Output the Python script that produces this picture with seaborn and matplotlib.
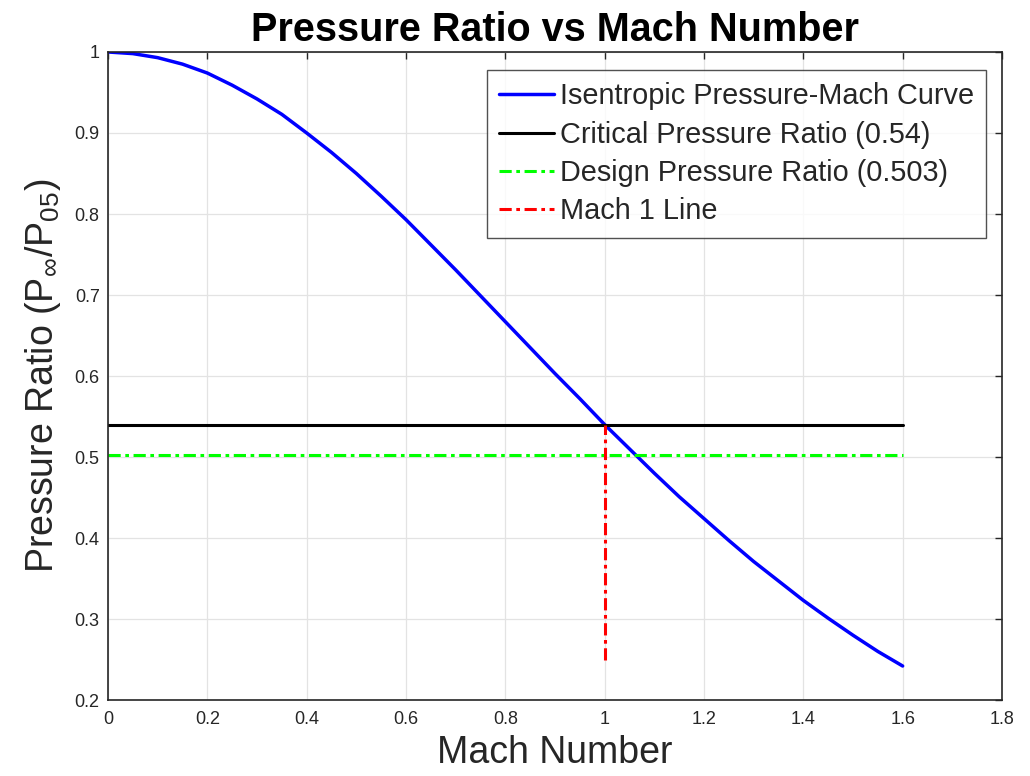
import matplotlib
matplotlib.use('Agg')
import matplotlib.pyplot as plt
import pandas as pd
import seaborn as sns

# values
mach = [0.0, 0.05, 0.1, 0.15, 0.2, 0.25, 0.3, 0.35, 0.4, 0.45, 0.5, 0.55,
        0.6, 0.65, 0.7, 0.75, 0.8, 0.85, 0.9, 0.95, 1.0, 1.05, 1.1, 1.15,
        1.2, 1.25, 1.3, 1.35, 1.4, 1.45, 1.5, 1.55, 1.6]
pressure_ratio = [1.000, 0.998, 0.993, 0.985, 0.974, 0.959, 0.942, 0.923,
                  0.900, 0.876, 0.850, 0.822, 0.793, 0.762, 0.731, 0.699,
                  0.667, 0.635, 0.603, 0.572, 0.540, 0.510, 0.480, 0.451,
                  0.424, 0.397, 0.371, 0.347, 0.323, 0.301, 0.280, 0.260,
                  0.242]

critical_x = [0.0, 1.6]
critical_y = [0.54, 0.54]
design_x = [0.0, 1.6]
design_y = [0.503, 0.503]
mach1_x = [1.0, 1.0]
mach1_y = [0.25, 0.54]

x_ticks = [0, 0.2, 0.4, 0.6, 0.8, 1, 1.2, 1.4, 1.6, 1.8]
y_ticks = [0.2, 0.3, 0.4, 0.5, 0.6, 0.7, 0.8, 0.9, 1]

df = pd.DataFrame({'mach': mach, 'ratio': pressure_ratio})

sns.set_style('white')
plt.rcParams['font.family'] = ['Liberation Sans', 'DejaVu Sans']
plt.rcParams['mathtext.fontset'] = 'custom'
plt.rcParams['mathtext.rm'] = 'Liberation Sans'
plt.rcParams['mathtext.it'] = 'Liberation Sans'

fig = plt.figure(figsize=(10.3, 7.76), dpi=100)
ax = fig.add_axes([0.1049, 0.0979, 0.8679, 0.8351])

sns.lineplot(data=df, x='mach', y='ratio', ax=ax, color='#0000ff', linewidth=2.5,
             label='Isentropic Pressure-Mach Curve')
ax.plot(critical_x, critical_y, color='black', linewidth=2.2,
        label='Critical Pressure Ratio (0.54)')
ax.plot(design_x, design_y, color='#00ff00', linewidth=2.2, linestyle=(0, (4, 1.5, 1.2, 1.5)),
        label='Design Pressure Ratio (0.503)')
ax.plot(mach1_x, mach1_y, color='#ff0000', linewidth=2.2, linestyle=(0, (4, 1.5, 1.2, 1.5)),
        label='Mach 1 Line')

ax.set_xlim(0, 1.8)
ax.set_ylim(0.2, 1)
ax.set_xticks(x_ticks)
ax.set_yticks(y_ticks)
ax.set_xticklabels([f'{t:g}' for t in x_ticks])
ax.set_yticklabels([f'{t:g}' for t in y_ticks])
ax.tick_params(direction='in', top=True, right=True, length=5, width=1,
               labelsize=13, labelcolor='#262626', color='#262626')
ax.tick_params(axis='x', pad=8)
ax.tick_params(axis='y', pad=6)
ax.grid(True, color='#e3e3e3', linewidth=0.9)
for s in ax.spines.values():
    s.set_color('#262626')
    s.set_linewidth(1.2)

ax.set_title('Pressure Ratio vs Mach Number', fontsize=28.5, fontweight='bold',
             color='black', pad=8)
ax.set_xlabel('Mach Number', fontsize=27, color='#262626', labelpad=5)
ax.set_ylabel(r'Pressure Ratio (P$_{\infty}$/P$_{05}$)', fontsize=27,
              color='#262626', labelpad=8)

leg = ax.legend(loc='upper right', fontsize=20.8, frameon=True, fancybox=False,
                handlelength=1.9, handletextpad=0.2, borderpad=0.42,
                labelspacing=0.36, bbox_to_anchor=(0.982, 0.972),
                borderaxespad=0)
leg.get_frame().set_edgecolor('#262626')
leg.get_frame().set_linewidth(1.0)

fig.savefig('out.png', dpi=100)
